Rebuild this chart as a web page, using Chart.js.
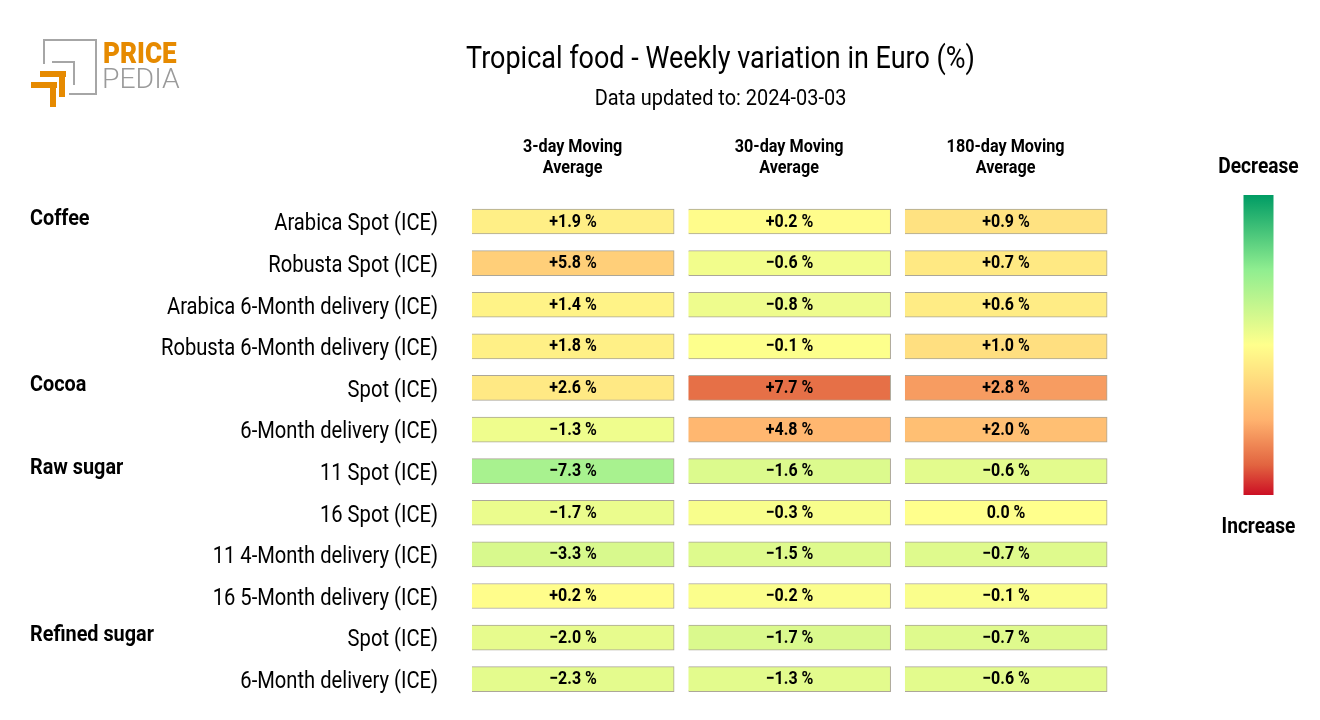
<!DOCTYPE html>
<html>
<head>
<meta charset="utf-8">
<title>Tropical food</title>
<script src="https://cdn.jsdelivr.net/npm/chart.js@4/dist/chart.umd.min.js"></script>
<style>
  html, body { margin: 0; padding: 0; background: #fff; }
  #grafico { display: block; }
</style>
</head>
<body>
<canvas id="grafico" width="1320" height="720"></canvas>
<script>
const products = [
  'Arabica Spot (ICE)', 'Robusta Spot (ICE)', 'Arabica 6-Month delivery (ICE)', 'Robusta 6-Month delivery (ICE)',
  'Spot (ICE)', '6-Month delivery (ICE)',
  '11 Spot (ICE)', '16 Spot (ICE)', '11 4-Month delivery (ICE)', '16 5-Month delivery (ICE)',
  'Spot (ICE) ', '6-Month delivery (ICE) '
];
const groupNames = ['Coffee', 'Cocoa', 'Raw sugar', 'Refined sugar'];
const groupRows = [0, 4, 6, 10];
const columnTitles = [['3-day Moving', 'Average'], ['30-day Moving', 'Average'], ['180-day Moving', 'Average']];

const ma3 = [1.9, 5.8, 1.4, 1.8, 2.6, -1.3, -7.3, -1.7, -3.3, 0.2, -2.0, -2.3];
const ma30 = [0.2, -0.6, -0.8, -0.1, 7.7, 4.8, -1.6, -0.3, -1.5, -0.2, -1.7, -1.3];
const ma180 = [0.9, 0.7, 0.6, 1.0, 2.8, 2.0, -0.6, 0.0, -0.7, -0.1, -0.7, -0.6];
const columnRange = [18.6, 10.2, 4.8];

// colour ramp of the legend, top (decrease) to bottom (increase)
const ramp = [
  [-1, [0, 156, 100]],
  [-0.5, [144, 238, 144]],
  [0, [255, 255, 140]],
  [0.5, [255, 178, 110]],
  [0.8, [226, 100, 64]],
  [1, [204, 15, 36]]
];

function colore(t) {
  t = Math.max(-1, Math.min(1, t));
  for (let i = 1; i < ramp.length; i++) {
    if (t <= ramp[i][0]) {
      const a = ramp[i - 1], b = ramp[i];
      const k = (t - a[0]) / (b[0] - a[0]);
      const c = a[1].map((v, n) => Math.round(v + (b[1][n] - v) * k));
      return `rgb(${c[0]},${c[1]},${c[2]})`;
    }
  }
  return 'rgb(204,15,36)';
}

function formatar(v) {
  if (v === 0) return '0.0 %';
  return (v > 0 ? '+' : '\u2212') + Math.abs(v).toFixed(1) + ' %';
}

// Roboto is the nearest installed font, the original is a condensed cut
function texto(ctx, str, x, y, font, align, squeeze, color) {
  ctx.save();
  ctx.font = font;
  ctx.fillStyle = color || '#000';
  ctx.textAlign = align;
  ctx.textBaseline = 'middle';
  ctx.translate(x, y);
  ctx.scale(squeeze, 1);
  ctx.fillText(str, 0, 0);
  ctx.restore();
}

function logo(ctx) {
  ctx.save();
  ctx.lineCap = 'butt';
  ctx.strokeStyle = '#a6a6a6';
  ctx.lineWidth = 2;
  ctx.beginPath();
  ctx.moveTo(44, 64); ctx.lineTo(44, 40); ctx.lineTo(96, 40); ctx.lineTo(96, 94); ctx.lineTo(69, 94);
  ctx.moveTo(52, 62); ctx.lineTo(74, 62); ctx.lineTo(74, 85);
  ctx.stroke();
  ctx.fillStyle = '#e68a00';
  ctx.fillRect(40, 71, 26, 6);
  ctx.fillRect(59, 71, 6, 26);
  ctx.fillRect(31, 82, 26, 6);
  ctx.fillRect(50, 82, 6, 25);
  ctx.restore();
  texto(ctx, 'PRICE', 103, 56, '900 29px Roboto', 'left', 0.9, '#e68a00');
  texto(ctx, 'PEDIA', 102, 81, '300 27px Roboto', 'left', 1.05, '#9a9a9a');
}

const decoracao = {
  id: 'decoracao',
  afterDatasetsDraw(chart) {
    const { ctx, scales } = chart;
    const rowY = (i) => scales.y.getPixelForValue(i);
    logo(ctx);
    texto(ctx, 'Tropical food - Weekly variation in Euro (%)', 720.5, 60, '31px Roboto', 'center', 0.87);
    texto(ctx, 'Data updated to: 2024-03-03', 720.5, 99, '22.9px Roboto', 'center', 0.87);

    columnTitles.forEach((linhas, c) => {
      const x = scales.x.getPixelForValue(c + 0.497);
      texto(ctx, linhas[0], x, 147, 'bold 18.6px Roboto', 'center', 0.87);
      texto(ctx, linhas[1], x, 168, 'bold 18.6px Roboto', 'center', 0.87);
    });

    products.forEach((p, i) => {
      texto(ctx, p.trim(), 438, rowY(i) + 3, '23.2px Roboto', 'right', 0.87);
    });
    groupNames.forEach((g, i) => {
      texto(ctx, g, 30, rowY(groupRows[i]) - 2.5, 'bold 22.8px Roboto', 'left', 0.87);
    });

    chart.data.datasets.forEach((ds, d) => {
      chart.getDatasetMeta(d).data.forEach((bar, i) => {
        const p = bar.getCenterPoint();
        texto(ctx, formatar(ds.valores[i]), p.x, p.y + 0.5, 'bold 18.4px Roboto', 'center', 0.87);
      });
    });

    // legend
    const leg = ctx.createLinearGradient(0, 195, 0, 495);
    ramp.forEach((s) => leg.addColorStop((s[0] + 1) / 2, `rgb(${s[1].join(',')})`));
    ctx.fillStyle = leg;
    ctx.fillRect(1243.5, 195, 30, 300);
    texto(ctx, 'Decrease', 1258.5, 167, 'bold 22px Roboto', 'center', 0.87);
    texto(ctx, 'Increase', 1258.5, 527, 'bold 22px Roboto', 'center', 0.87);
  }
};

function serie(valores, coluna) {
  return {
    label: columnTitles[coluna].join(' '),
    valores: valores,
    data: valores.map(() => [coluna + 0.032, coluna + 0.966]),
    backgroundColor: valores.map((v) => colore(v / columnRange[coluna])),
    borderColor: 'rgba(90,80,50,0.5)',
    borderWidth: 1,
    barThickness: 25,
    grouped: false
  };
}

new Chart(document.getElementById('grafico').getContext('2d'), {
  type: 'bar',
  data: {
    labels: products,
    datasets: [serie(ma3, 0), serie(ma30, 1), serie(ma180, 2)]
  },
  options: {
    indexAxis: 'y',
    responsive: false,
    animation: false,
    layout: { padding: { top: 200.7, bottom: 20, left: 0, right: 205.5 } },
    plugins: { legend: { display: false }, tooltip: { enabled: false } },
    scales: {
      x: { type: 'linear', min: 0, max: 3, display: false },
      y: {
        type: 'category',
        grid: { display: false },
        border: { display: false },
        ticks: { display: false },
        afterFit(scale) { scale.width = 465; }
      }
    }
  },
  plugins: [decoracao]
});
</script>
</body>
</html>
